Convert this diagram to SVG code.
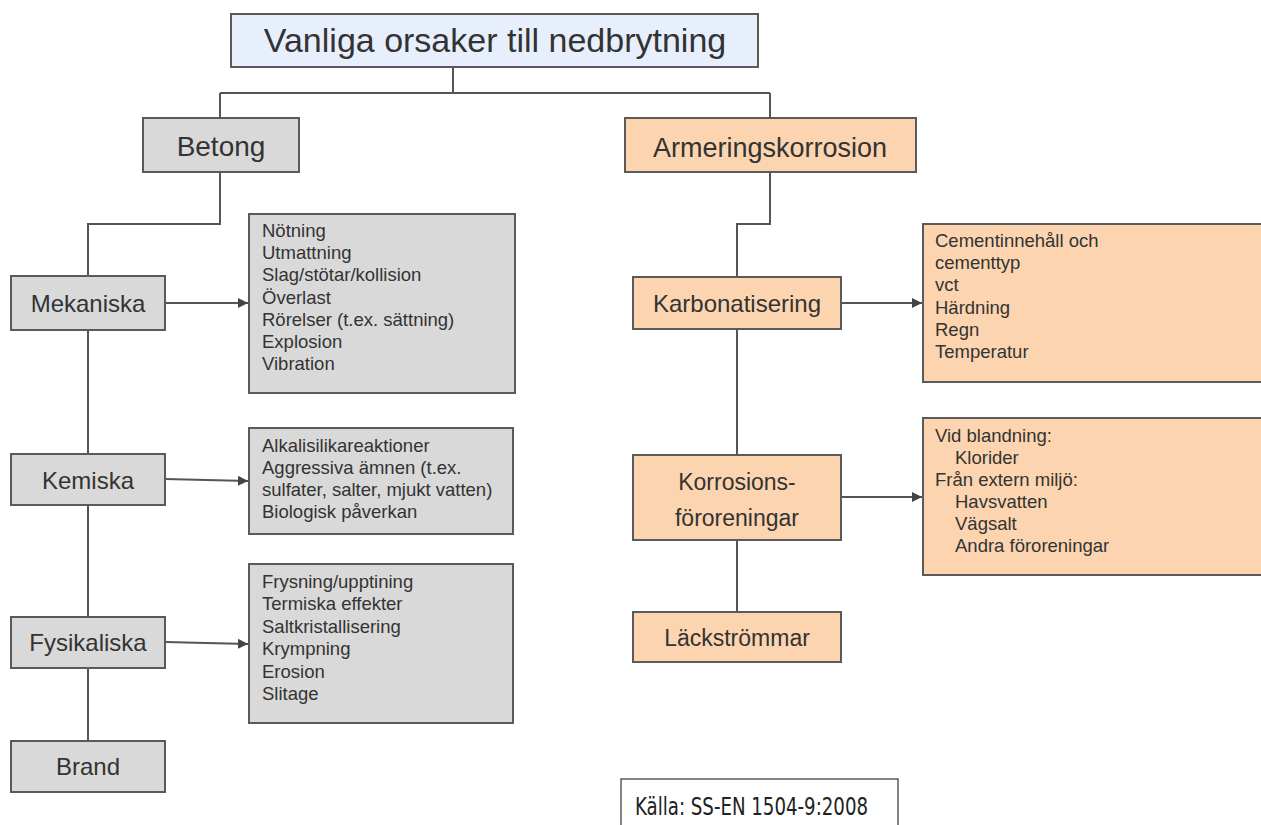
<svg xmlns="http://www.w3.org/2000/svg" width="1261" height="825" viewBox="0 0 1261 825">
<style>
.box{stroke:#5a5a5a;stroke-width:2}
.gray{fill:#d9d9d9}
.peach{fill:#fcd5b0}
.blue{fill:#e8effc}
.t{font-family:"Liberation Sans",Arial,sans-serif;fill:#333}
.c{text-anchor:middle}
.s{font-size:18.5px}
.m{font-size:24px}
.conn path{fill:none;stroke:#555;stroke-width:2}
</style>
<defs>
<marker id="ah" viewBox="0 0 10 10" refX="10" refY="5" markerWidth="5" markerHeight="5" orient="auto" markerUnits="strokeWidth">
<path d="M0,0 L10,5 L0,10 z" fill="#444"/>
</marker>
</defs>
<rect width="1261" height="825" fill="#fff"/>
<g class="conn">
<path d="M453,67 V93 M220,93 H770 M220,93 V118 M770,93 V118"/>
<path d="M220,172 V224 H88 V276"/>
<path d="M88,330 V454 M88,505 V617 M88,668 V741"/>
<path d="M770,172 V224 H737 V277"/>
<path d="M737,329 V455 M737,540 V612"/>
<path d="M165,303 H248" marker-end="url(#ah)"/>
<path d="M165,479 L248,481" marker-end="url(#ah)"/>
<path d="M165,642 L248,644" marker-end="url(#ah)"/>
<path d="M841,303 H922" marker-end="url(#ah)"/>
<path d="M841,497 H922" marker-end="url(#ah)"/>
</g>
<g id="title"><rect class="box blue" x="231" y="14" width="527" height="53"/><text class="t c" x="495" y="52" font-size="34">Vanliga orsaker till nedbrytning</text></g>
<g id="betong"><rect class="box gray" x="143" y="118" width="156" height="54"/><text class="t c" x="221" y="156" font-size="28">Betong</text></g>
<g id="armering"><rect class="box peach" x="625" y="118" width="291" height="54"/><text class="t c" x="770" y="157" font-size="27">Armeringskorrosion</text></g>
<g id="mekaniska"><rect class="box gray" x="11" y="276" width="154" height="54"/><text class="t c m" x="88" y="312">Mekaniska</text></g>
<g id="kemiska"><rect class="box gray" x="11" y="454" width="154" height="51"/><text class="t c m" x="88" y="489">Kemiska</text></g>
<g id="fysikaliska"><rect class="box gray" x="11" y="617" width="154" height="51"/><text class="t c m" x="88" y="651">Fysikaliska</text></g>
<g id="brand"><rect class="box gray" x="11" y="741" width="154" height="51"/><text class="t c m" x="88" y="775">Brand</text></g>
<g id="mek-list"><rect class="box gray" x="249" y="214" width="266" height="179"/>
<text class="t s" x="262" y="237"><tspan x="262">Nötning</tspan><tspan x="262" dy="22.2">Utmattning</tspan><tspan x="262" dy="22.2">Slag/stötar/kollision</tspan><tspan x="262" dy="22.2">Överlast</tspan><tspan x="262" dy="22.2">Rörelser (t.ex. sättning)</tspan><tspan x="262" dy="22.2">Explosion</tspan><tspan x="262" dy="22.2">Vibration</tspan></text></g>
<g id="kem-list"><rect class="box gray" x="249" y="428" width="264" height="106"/>
<text class="t s" x="262" y="452"><tspan x="262">Alkalisilikareaktioner</tspan><tspan x="262" dy="22">Aggressiva ämnen (t.ex.</tspan><tspan x="262" dy="22">sulfater, salter, mjukt vatten)</tspan><tspan x="262" dy="22">Biologisk påverkan</tspan></text></g>
<g id="fys-list"><rect class="box gray" x="249" y="564" width="264" height="159"/>
<text class="t s" x="262" y="588"><tspan x="262">Frysning/upptining</tspan><tspan x="262" dy="22.4">Termiska effekter</tspan><tspan x="262" dy="22.4">Saltkristallisering</tspan><tspan x="262" dy="22.4">Krympning</tspan><tspan x="262" dy="22.4">Erosion</tspan><tspan x="262" dy="22.4">Slitage</tspan></text></g>
<g id="karbonatisering"><rect class="box peach" x="633" y="277" width="208" height="52"/><text class="t c m" x="737" y="312">Karbonatisering</text></g>
<g id="korrosion"><rect class="box peach" x="633" y="455" width="208" height="85"/><text class="t c" x="737" y="490" font-size="23"><tspan x="737">Korrosions-</tspan><tspan x="737" dy="36">föroreningar</tspan></text></g>
<g id="lackstrommar"><rect class="box peach" x="633" y="612" width="208" height="50"/><text class="t c" x="737" y="646" font-size="23">Läckströmmar</text></g>
<g id="karb-list"><rect class="box peach" x="923" y="224" width="350" height="158"/>
<text class="t s" x="935" y="247"><tspan x="935">Cementinnehåll och</tspan><tspan x="935" dy="22.2">cementtyp</tspan><tspan x="935" dy="22.2">vct</tspan><tspan x="935" dy="22.2">Härdning</tspan><tspan x="935" dy="22.2">Regn</tspan><tspan x="935" dy="22.2">Temperatur</tspan></text></g>
<g id="korr-list"><rect class="box peach" x="923" y="418" width="350" height="157"/>
<text class="t s" x="935" y="442"><tspan x="935">Vid blandning:</tspan><tspan x="955" dy="22">Klorider</tspan><tspan x="935" dy="22">Från extern miljö:</tspan><tspan x="955" dy="22">Havsvatten</tspan><tspan x="955" dy="22">Vägsalt</tspan><tspan x="955" dy="22">Andra föroreningar</tspan></text></g>
<g id="source"><rect x="621" y="779" width="277" height="60" fill="#fff" stroke="#333" stroke-width="1.2"/><text x="635" y="815" font-family="'DejaVu Sans Condensed','Liberation Sans',sans-serif" font-size="24" textLength="233" lengthAdjust="spacingAndGlyphs" fill="#222">Källa: SS-EN 1504-9:2008</text></g>
</svg>
